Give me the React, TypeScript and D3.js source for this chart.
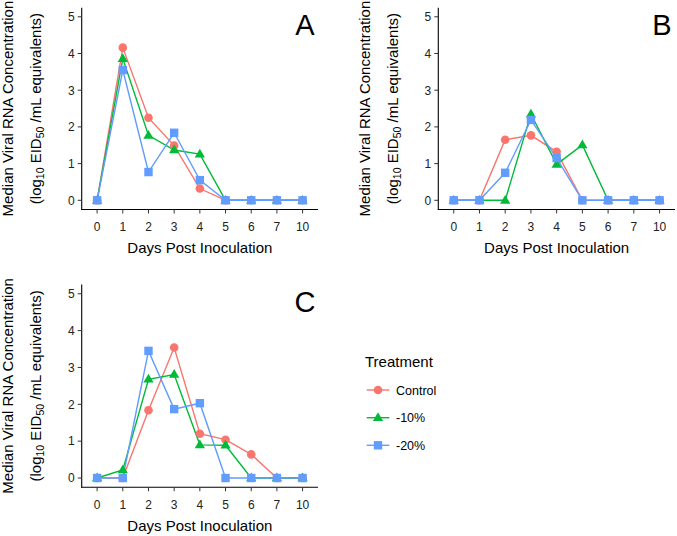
import React from "react";
import * as d3 from "d3";

const days = ["0", "1", "2", "3", "4", "5", "6", "7", "10"];
const treatments = ["Control", "-10%", "-20%"];
const colors = ["#F8766D", "#00BA38", "#619CFF"];
const yTicks = [0, 1, 2, 3, 4, 5];

const panelAControl = [0, 4.16, 2.25, 1.49, 0.32, 0, 0, 0, 0];
const panelAMinus10 = [0, 3.86, 1.77, 1.37, 1.26, 0, 0, 0, 0];
const panelAMinus20 = [0, 3.55, 0.77, 1.84, 0.55, 0, 0, 0, 0];

const panelBControl = [0, 0, 1.65, 1.77, 1.32, 0, 0, 0, 0];
const panelBMinus10 = [0, 0, 0, 2.35, 0.98, 1.51, 0, 0, 0];
const panelBMinus20 = [0, 0, 0.75, 2.19, 1.15, 0, 0, 0, 0];

const panelCControl = [0, 0, 1.84, 3.54, 1.2, 1.04, 0.64, 0, 0];
const panelCMinus10 = [0, 0.22, 2.68, 2.81, 0.9, 0.89, 0, 0, 0];
const panelCMinus20 = [0, 0, 3.45, 1.87, 2.03, 0, 0, 0, 0];

const FONT = "'Liberation Sans', Arial, sans-serif";

function Marker({ shape, x, y, color }: { shape: number; x: number; y: number; color: string }) {
  if (shape === 0) return <circle cx={x} cy={y} r={4.3} fill={color} />;
  if (shape === 1) {
    const s = 5.4;
    const path = `M${x},${y - s}L${x + s * 0.95},${y + s * 0.62}L${x - s * 0.95},${y + s * 0.62}Z`;
    return <path d={path} fill={color} />;
  }
  const h = 4.2;
  return <rect x={x - h} y={y - h} width={2 * h} height={2 * h} fill={color} />;
}

function Panel({
  x0,
  x1,
  yZero,
  unit,
  label,
  series,
}: {
  x0: number;
  x1: number;
  yZero: number;
  unit: number;
  label: string;
  series: number[][];
}) {
  const x = d3.scalePoint<string>().domain(days).range([x0, x1]).padding(0.6);
  const y = d3.scaleLinear().domain([0, 5]).range([yZero, yZero - 5 * unit]);
  const yBottom = y(-0.25);
  const yTop = y(5.25);
  const line = d3
    .line<number>()
    .x((_, i) => x(days[i]) as number)
    .y((v) => y(v));
  const cx = (x0 + x1) / 2;
  const cy = (yTop + yBottom) / 2;
  return (
    <g fontFamily={FONT}>
      {/* y title */}
      <text
        transform={`translate(${x0 - 68.3},${cy}) rotate(-90)`}
        textAnchor="middle"
        fontSize={15}
        fill="#000"
      >
        Median Viral RNA Concentration
      </text>
      <text
        transform={`translate(${x0 - 40.5},${cy}) rotate(-90)`}
        textAnchor="middle"
        fontSize={15}
        fill="#000"
      >
        (log
        <tspan fontSize={10.5} dy={3}>10</tspan>
        <tspan dy={-3}> EID</tspan>
        <tspan fontSize={10.5} dy={3}>50</tspan>
        <tspan dy={-3}> /mL equivalents)</tspan>
      </text>
      {/* axes */}
      <line x1={x0} x2={x0} y1={yTop} y2={yBottom + 0.5} stroke="#000" strokeWidth={1.1} />
      <line x1={x0 - 0.5} x2={x1} y1={yBottom} y2={yBottom} stroke="#000" strokeWidth={1.1} />
      {yTicks.map((t) => (
        <g key={t}>
          <line x1={x0 - 4} x2={x0} y1={y(t)} y2={y(t)} stroke="#333" strokeWidth={1} />
          <text x={x0 - 7} y={y(t) + 4.3} textAnchor="end" fontSize={12} fill="#222">
            {t}
          </text>
        </g>
      ))}
      {days.map((d) => (
        <g key={d}>
          <line x1={x(d)} x2={x(d)} y1={yBottom} y2={yBottom + 4} stroke="#333" strokeWidth={1} />
          <text x={x(d)} y={yBottom + 21.5} textAnchor="middle" fontSize={12} fill="#222">
            {d}
          </text>
        </g>
      ))}
      <text x={cx} y={yBottom + 43.5} textAnchor="middle" fontSize={15} fill="#000">
        Days Post Inoculation
      </text>
      <text x={x1 - 13} y={yTop + 27.4} textAnchor="middle" fontSize={29} fill="#000">
        {label}
      </text>
      {/* lines */}
      {series.map((s, k) => (
        <path key={k} d={line(s) || ""} fill="none" stroke={colors[k]} strokeWidth={1.4} />
      ))}
      {series.map((s, k) =>
        s.map((v, i) => (
          <Marker key={`${k}-${i}`} shape={k} x={x(days[i]) as number} y={y(v)} color={colors[k]} />
        ))
      )}
    </g>
  );
}

export default function App() {
  const legendY = [390, 417.7, 445.3];
  return (
    <svg
      width={677}
      height={536}
      style={{ position: "absolute", left: 0, top: 0, background: "#fff" }}
    >
      <rect width={677} height={536} fill="#fff" />
      <Panel
        x0={81.7}
        x1={318}
        yZero={200.3}
        unit={36.7}
        label="A"
        series={[panelAControl, panelAMinus10, panelAMinus20]}
      />
      <Panel
        x0={438.3}
        x1={675}
        yZero={200.3}
        unit={36.7}
        label="B"
        series={[panelBControl, panelBMinus10, panelBMinus20]}
      />
      <Panel
        x0={81.7}
        x1={318}
        yZero={478}
        unit={36.85}
        label="C"
        series={[panelCControl, panelCMinus10, panelCMinus20]}
      />
      <g fontFamily={FONT}>
        <text x={365} y={366.8} fontSize={15} fill="#000">
          Treatment
        </text>
        {treatments.map((t, k) => (
          <g key={t}>
            <line x1={366.7} x2={389.3} y1={legendY[k]} y2={legendY[k]} stroke={colors[k]} strokeWidth={1.4} />
            <Marker shape={k} x={378} y={legendY[k]} color={colors[k]} />
            <text x={396} y={legendY[k] + 4.5} fontSize={12.5} fill="#000">
              {t}
            </text>
          </g>
        ))}
      </g>
    </svg>
  );
}
